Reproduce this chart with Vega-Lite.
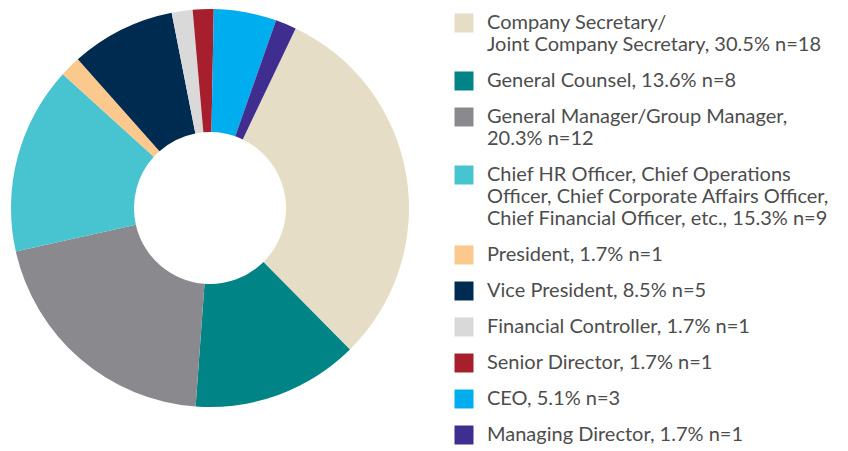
{
  "$schema": "https://vega.github.io/schema/vega-lite/v6.json",
  "width": 400,
  "height": 400,
  "padding": {"left": 10, "top": 8, "right": 0, "bottom": 0},
  "background": "white",
  "config": {"view": {"stroke": null}},
  "data": {
    "values": [
      {"role": "Company Secretary/|Joint Company Secretary, 30.5% n=18", "n": 18, "rank": 1},
      {"role": "General Counsel, 13.6% n=8", "n": 8, "rank": 2},
      {"role": "General Manager/Group Manager,|20.3% n=12", "n": 12, "rank": 3},
      {"role": "Chief HR Officer, Chief Operations|Officer, Chief Corporate Affairs Officer,|Chief Financial Officer, etc., 15.3% n=9", "n": 9, "rank": 4},
      {"role": "President, 1.7% n=1", "n": 1, "rank": 5},
      {"role": "Vice President, 8.5% n=5", "n": 5, "rank": 6},
      {"role": "Financial Controller, 1.7% n=1", "n": 1, "rank": 7},
      {"role": "Senior Director, 1.7% n=1", "n": 1, "rank": 8},
      {"role": "CEO, 5.1% n=3", "n": 3, "rank": 9},
      {"role": "Managing Director, 1.7% n=1", "n": 1, "rank": 10}
    ]
  },
  "mark": {"type": "arc", "innerRadius": 76, "outerRadius": 199},
  "encoding": {
    "theta": {"field": "n", "type": "quantitative", "stack": true, "scale": {"range": [0.445, 6.7282]}},
    "order": {"field": "rank", "type": "quantitative", "sort": "ascending"},
    "color": {
      "field": "role",
      "type": "nominal",
      "sort": null,
      "scale": {
        "domain": [
          "Company Secretary/|Joint Company Secretary, 30.5% n=18",
          "General Counsel, 13.6% n=8",
          "General Manager/Group Manager,|20.3% n=12",
          "Chief HR Officer, Chief Operations|Officer, Chief Corporate Affairs Officer,|Chief Financial Officer, etc., 15.3% n=9",
          "President, 1.7% n=1",
          "Vice President, 8.5% n=5",
          "Financial Controller, 1.7% n=1",
          "Senior Director, 1.7% n=1",
          "CEO, 5.1% n=3",
          "Managing Director, 1.7% n=1"
        ],
        "range": ["#E6DDC6", "#008486", "#8A898E", "#48C3D0", "#FBC88D", "#002B50", "#D9D9D9", "#A71E2C", "#00AEEF", "#3F2E8F"]
      },
      "legend": {
        "title": null,
        "orient": "none",
        "legendX": 444,
        "legendY": 5,
        "symbolType": "square",
        "symbolSize": 361,
        "symbolStrokeWidth": 0,
        "labelFont": "Lato",
        "labelFontSize": 20,
        "labelColor": "#4d4d4d",
        "labelLimit": 0,
        "labelOffset": 13,
        "labelBaseline": "middle",
        "labelLineHeight": 21,
        "rowPadding": 16,
        "labelExpr": "split(datum.label, '|')"
      }
    }
  }
}
